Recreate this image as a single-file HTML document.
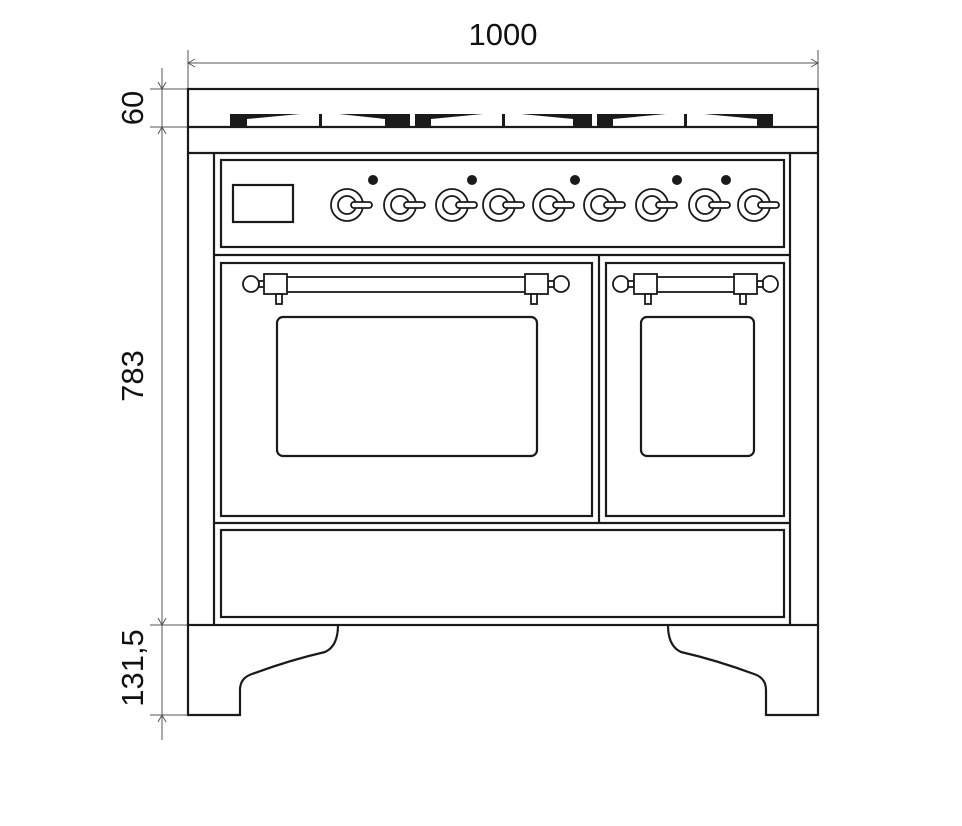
<!DOCTYPE html>
<html><head><meta charset="utf-8"><style>body{margin:0;background:#fff}svg{display:block}</style></head><body>
<svg width="962" height="826" viewBox="0 0 962 826" xmlns="http://www.w3.org/2000/svg">
<g stroke="#555" stroke-width="1" fill="none">
<line x1="188" y1="50" x2="188" y2="89"/><line x1="818" y1="50" x2="818" y2="89"/>
<line x1="188" y1="63" x2="818" y2="63"/>
<path d="M195,59 L188,63 L195,67 M811,59 L818,63 L811,67"/>
<line x1="162" y1="68" x2="162" y2="740"/>
<line x1="150" y1="89" x2="188" y2="89"/><line x1="150" y1="127" x2="188" y2="127"/>
<line x1="150" y1="625" x2="188" y2="625"/><line x1="150" y1="715" x2="188" y2="715"/>
<path d="M158,82 L162,89 L166,82 M158,134 L162,127 L166,134 M158,618 L162,625 L166,618 M158,722 L162,715 L166,722"/>
</g>
<g font-family="Liberation Sans, sans-serif" font-size="31" fill="#111" text-anchor="middle">
<text x="503" y="45">1000</text>
<text transform="translate(143,108) rotate(-90)">60</text>
<text transform="translate(143,376) rotate(-90)">783</text>
<text transform="translate(143,668) rotate(-90)">131,5</text>
</g>
<g stroke="#1a1a1a" stroke-width="2.2" fill="none">
<rect x="188" y="89" width="630" height="536"/>
<line x1="188" y1="127" x2="818" y2="127"/>
<line x1="188" y1="153" x2="818" y2="153"/>
<line x1="214" y1="153" x2="214" y2="625"/><line x1="790" y1="153" x2="790" y2="625"/>
<rect x="221" y="160" width="563" height="87"/>
<line x1="214" y1="255" x2="790" y2="255"/>
<line x1="599" y1="255" x2="599" y2="523"/>
<rect x="221" y="263" width="371" height="253"/>
<rect x="606" y="263" width="178" height="253"/>
<line x1="214" y1="523" x2="790" y2="523"/>
<rect x="221" y="530" width="563" height="87"/>
<rect x="233" y="185" width="60" height="37"/>
<rect x="277" y="317" width="260" height="139" rx="6"/>
<rect x="641" y="317" width="113" height="139" rx="6"/>
<path d="M188,625 L188,715 L240,715 L240,690 Q240,678 252,674 Q290,660 325,652 Q338,646 338,625"/>
<path d="M818,625 L818,715 L766,715 L766,690 Q766,678 754,674 Q716,660 681,652 Q668,646 668,625"/>
</g>
<g fill="#1a1a1a">
<path d="M230,114 L300,114 L247,119 L247,127 L230,127Z"/>
<rect x="319" y="114" width="3" height="13"/>
<path d="M339,114 L410,114 L410,127 L385,127 L385,119Z"/>
<path d="M415,114 L483,114 L431,119 L431,127 L415,127Z"/>
<rect x="502" y="114" width="3" height="13"/>
<path d="M521,114 L592,114 L592,127 L573,127 L573,119Z"/>
<path d="M597,114 L666,114 L613,119 L613,127 L597,127Z"/>
<rect x="684" y="114" width="3" height="13"/>
<path d="M704,114 L773,114 L773,127 L757,127 L757,119Z"/>
<circle cx="373" cy="180" r="5"/><circle cx="472" cy="180" r="5"/><circle cx="575" cy="180" r="5"/><circle cx="677" cy="180" r="5"/><circle cx="726" cy="180" r="5"/>
</g>
<g stroke="#1a1a1a" stroke-width="1.8" fill="#fff">
<g id="k"><circle cx="347" cy="205" r="16"/><circle cx="347" cy="205" r="9"/><rect x="351" y="202" width="21" height="6" rx="3"/></g>
<use href="#k" x="53"/><use href="#k" x="105"/><use href="#k" x="152"/><use href="#k" x="202"/><use href="#k" x="253"/><use href="#k" x="305"/><use href="#k" x="358"/><use href="#k" x="407"/>
<rect x="265" y="277" width="282" height="15"/>
<circle cx="251" cy="284" r="8"/><circle cx="561" cy="284" r="8"/>
<rect x="259" y="281" width="6" height="6"/><rect x="548" y="281" width="6" height="6"/>
<rect x="264" y="274" width="23" height="20"/><rect x="525" y="274" width="23" height="20"/>
<rect x="276" y="294" width="6" height="10"/><rect x="531" y="294" width="6" height="10"/>
<rect x="646" y="277" width="100" height="15"/>
<circle cx="621" cy="284" r="8"/><circle cx="770" cy="284" r="8"/>
<rect x="628" y="281" width="6" height="6"/><rect x="757" y="281" width="6" height="6"/>
<rect x="634" y="274" width="23" height="20"/><rect x="734" y="274" width="23" height="20"/>
<rect x="645" y="294" width="6" height="10"/><rect x="740" y="294" width="6" height="10"/>
</g>
</svg>
</body></html>
